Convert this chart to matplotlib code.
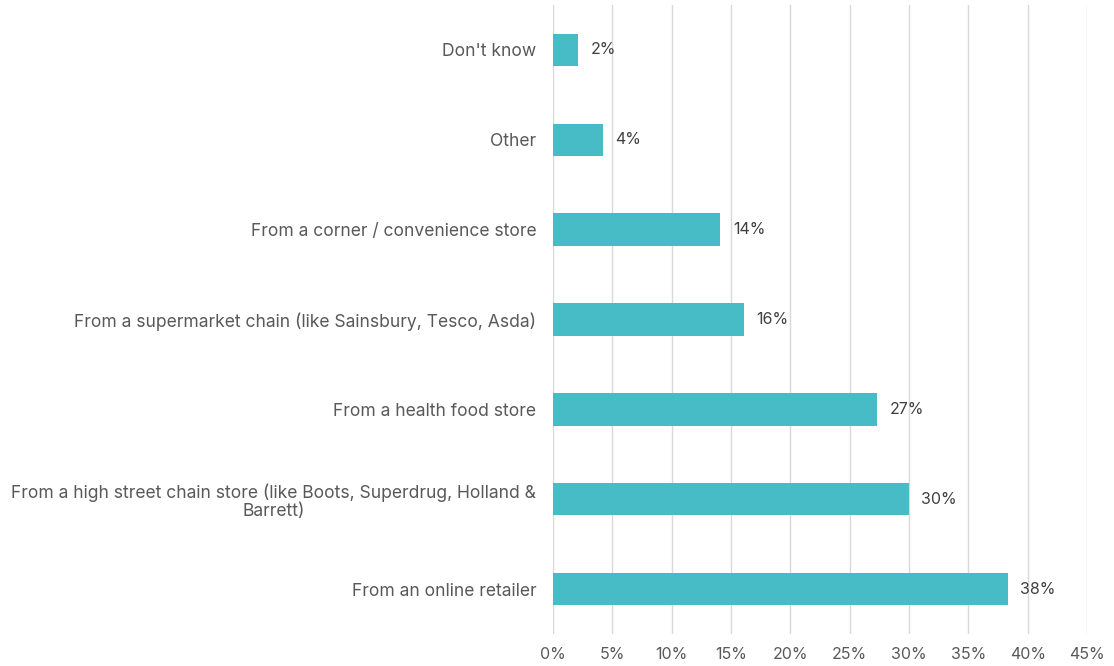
import matplotlib
matplotlib.use("Agg")
import matplotlib.pyplot as plt
from matplotlib.ticker import FuncFormatter

categories = [
    "From an online retailer",
    "From a high street chain store (like Boots, Superdrug, Holland &\nBarrett)",
    "From a health food store",
    "From a supermarket chain (like Sainsbury, Tesco, Asda)",
    "From a corner / convenience store",
    "Other",
    "Don't know",
]
values = [38.3, 30.0, 27.3, 16.1, 14.1, 4.2, 2.1]
x_ticks = [0, 5, 10, 15, 20, 25, 30, 35, 40, 45]

bar_color = "#47BCC6"
text_color = "#595959"
grid_color = "#D9D9D9"

plt.rcParams["font.family"] = ["Inter", "DejaVu Sans"]

fig = plt.figure(figsize=(11.14, 6.66), dpi=100)
ax = fig.add_axes([0.4964, 0.048, 0.4794, 0.9445])

y = list(range(len(categories)))
ax.barh(y, values, height=0.36, color=bar_color, zorder=3)

for yi, v in zip(y, values):
    ax.text(v + 1.05, yi, f"{v:.0f}%", va="center", ha="left",
            fontsize=11.5, color="#404040", zorder=4)

ax.set_xlim(0, 45)
ax.set_ylim(-0.5, len(categories) - 0.5)
ax.set_xticks(x_ticks)
ax.xaxis.set_major_formatter(FuncFormatter(lambda v, _: f"{v:.0f}%"))
ax.set_yticks(y)
ax.set_yticklabels(categories, multialignment="center", linespacing=1.1)

ax.grid(axis="x", color=grid_color, linewidth=1, zorder=0)
for s in ax.spines.values():
    s.set_visible(False)
ax.tick_params(axis="both", length=0, colors=text_color)
ax.tick_params(axis="x", pad=9, labelsize=11.5)
ax.tick_params(axis="y", pad=12, labelsize=12.6)

fig.savefig("out.png", dpi=100)
